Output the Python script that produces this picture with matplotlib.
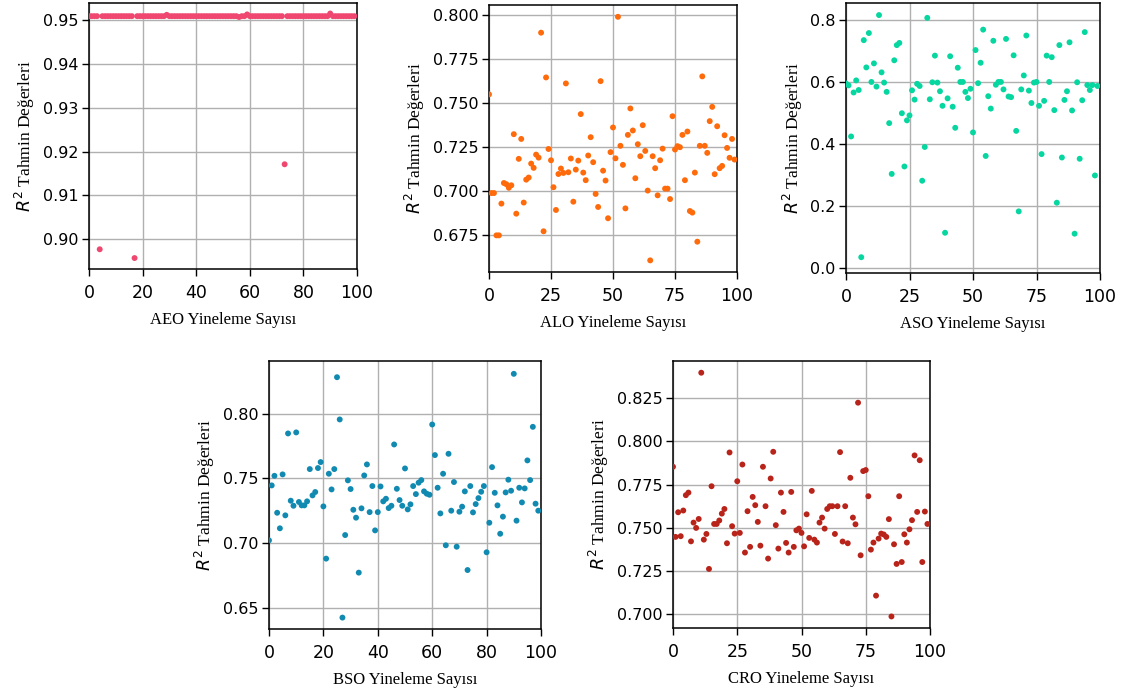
import matplotlib
matplotlib.use("Agg")
import matplotlib.pyplot as plt
import numpy as np

# iteration index 0..99 for every algorithm
iters = list(range(100))

aeo_r2 = [0.9509] * 100
aeo_r2[4] = 0.8977
aeo_r2[17] = 0.8957
aeo_r2[73] = 0.9171
aeo_r2[29] = 0.9512
aeo_r2[59] = 0.9513
aeo_r2[90] = 0.9515
aeo_r2[56] = 0.9507

alo_r2 = [0.755, 0.699, 0.699, 0.675, 0.675, 0.693, 0.7047, 0.704, 0.702, 0.7034,
          0.7324, 0.6873, 0.7184, 0.7297, 0.6936, 0.7066, 0.7078, 0.7157, 0.7133, 0.7208,
          0.7191, 0.790, 0.6773, 0.7646, 0.724, 0.7176, 0.7023, 0.6894, 0.7098, 0.7129,
          0.7104, 0.7612, 0.7108, 0.7186, 0.6941, 0.7123, 0.7174, 0.7438, 0.7106, 0.7063,
          0.7203, 0.7307, 0.7165, 0.6985, 0.6911, 0.7625, 0.7117, 0.7061, 0.6847, 0.7222,
          0.7362, 0.7187, 0.799, 0.7258, 0.715, 0.6903, 0.732, 0.747, 0.7345, 0.7074,
          0.7267, 0.7199, 0.7375, 0.7229, 0.7004, 0.6608, 0.7199, 0.7131, 0.6977, 0.7176,
          0.7242, 0.7015, 0.7015, 0.6956, 0.7426, 0.7237, 0.7256, 0.725, 0.732, 0.7063,
          0.7339, 0.6888, 0.6879, 0.7106, 0.6714, 0.7258, 0.7652, 0.7258, 0.7218, 0.7398,
          0.7479, 0.7097, 0.7369, 0.7131, 0.7144, 0.7318, 0.7246, 0.719, 0.7297, 0.718]

aso_r2 = [0.595, 0.589, 0.424, 0.566, 0.605, 0.574, 0.034, 0.735, 0.647, 0.758,
          0.600, 0.660, 0.585, 0.816, 0.631, 0.598, 0.568, 0.467, 0.303, 0.670,
          0.719, 0.726, 0.499, 0.327, 0.476, 0.492, 0.573, 0.543, 0.594, 0.587,
          0.281, 0.390, 0.807, 0.544, 0.599, 0.685, 0.598, 0.570, 0.523, 0.113,
          0.547, 0.683, 0.520, 0.452, 0.646, 0.600, 0.600, 0.568, 0.548, 0.578,
          0.437, 0.703, 0.596, 0.662, 0.769, 0.361, 0.554, 0.514, 0.733, 0.591,
          0.600, 0.600, 0.576, 0.739, 0.553, 0.551, 0.686, 0.442, 0.182, 0.576,
          0.621, 0.750, 0.572, 0.532, 0.598, 0.600, 0.523, 0.367, 0.539, 0.685,
          0.600, 0.680, 0.509, 0.210, 0.719, 0.356, 0.542, 0.570, 0.728, 0.508,
          0.110, 0.599, 0.352, 0.541, 0.761, 0.590, 0.574, 0.590, 0.298, 0.587]

bso_r2 = [0.7022, 0.7446, 0.752, 0.7235, 0.7115, 0.7531, 0.7215, 0.7847, 0.7328, 0.7289,
          0.7855, 0.7318, 0.7292, 0.7292, 0.7323, 0.7572, 0.7369, 0.7395, 0.758, 0.7626,
          0.7284, 0.6881, 0.7536, 0.7415, 0.7572, 0.8281, 0.7955, 0.6426, 0.7063, 0.7485,
          0.7418, 0.7258, 0.7197, 0.6773, 0.7269, 0.7523, 0.7608, 0.724, 0.7441, 0.7099,
          0.724, 0.7438, 0.7323, 0.7343, 0.7271, 0.7289, 0.7762, 0.742, 0.7333, 0.7289,
          0.7577, 0.7261, 0.730, 0.7441, 0.7379, 0.7467, 0.7487, 0.740, 0.7382, 0.7374,
          0.7916, 0.768, 0.7428, 0.723, 0.7536, 0.6984, 0.769, 0.7251, 0.7472, 0.6973,
          0.7243, 0.7282, 0.740, 0.6793, 0.7441, 0.7238, 0.7302, 0.7348, 0.7397, 0.7441,
          0.693, 0.7158, 0.7587, 0.7389, 0.7292, 0.7073, 0.7205, 0.7392, 0.749, 0.7405,
          0.8307, 0.7174, 0.7428, 0.7315, 0.7423, 0.7639, 0.7487, 0.7898, 0.7305, 0.7251]

cro_r2 = [0.7853, 0.7446, 0.7589, 0.745, 0.7599, 0.7688, 0.7703, 0.742, 0.7529, 0.7498,
          0.755, 0.8399, 0.743, 0.7463, 0.726, 0.774, 0.7521, 0.7521, 0.7541, 0.7581,
          0.7608, 0.7409, 0.7936, 0.7508, 0.7465, 0.7769, 0.7469, 0.7866, 0.7355, 0.7595,
          0.7388, 0.7678, 0.763, 0.7533, 0.7395, 0.7853, 0.7624, 0.732, 0.7785, 0.794,
          0.7514, 0.7378, 0.7703, 0.7591, 0.7411, 0.7355, 0.7707, 0.7388, 0.7484, 0.7494,
          0.7469, 0.7391, 0.7577, 0.744, 0.7713, 0.743, 0.7413, 0.7529, 0.7558, 0.7494,
          0.7608, 0.7624, 0.7624, 0.7463, 0.7624, 0.7938, 0.7419, 0.7624, 0.7409, 0.7789,
          0.7558, 0.7519, 0.8225, 0.7339, 0.7828, 0.7834, 0.7682, 0.7372, 0.7413, 0.7105,
          0.7436, 0.7465, 0.746, 0.7446, 0.7549, 0.6984, 0.7403, 0.7289, 0.7682, 0.730,
          0.7461, 0.7413, 0.749, 0.7543, 0.7919, 0.7591, 0.7891, 0.730, 0.7593, 0.7521]

W, H = 1132, 696

# name, values, color, axes box in pixels (left, top, right, bottom), ylim, yticks, xticks, y format
panels = [
    ("AEO", aeo_r2, "#ef476f", (89, 3, 357, 269), (0.8932, 0.9539),
     np.arange(0.90, 0.951, 0.01), range(0, 101, 20), "{:.2f}"),
    ("ALO", alo_r2, "#ff6a0a", (489, 5, 737, 272), (0.6542, 0.8057),
     np.arange(0.675, 0.8001, 0.025), range(0, 101, 25), "{:.3f}"),
    ("ASO", aso_r2, "#06d6a0", (846, 3, 1100, 273), (-0.017, 0.855),
     np.arange(0.0, 0.801, 0.2), range(0, 101, 25), "{:.1f}"),
    ("BSO", bso_r2, "#118ab2", (269, 361, 541, 629), (0.6338, 0.8406),
     np.arange(0.65, 0.801, 0.05), range(0, 101, 20), "{:.2f}"),
    ("CRO", cro_r2, "#b8231a", (673, 361, 930, 628), (0.6917, 0.8467),
     np.arange(0.700, 0.8251, 0.025), range(0, 101, 25), "{:.3f}"),
]

serif = "Liberation Serif"
fig = plt.figure(figsize=(W / 100, H / 100), dpi=100)

for name, vals, color, (l, t, r, b), ylim, yt, xt, fmt in panels:
    ax = fig.add_axes([l / W, 1 - b / H, (r - l) / W, (b - t) / H])
    ax.scatter(iters, vals, s=18, color=color, edgecolors="none", zorder=3)
    ax.set_xlim(0, 100)
    ax.set_ylim(*ylim)
    ax.set_xticks(list(xt))
    ax.set_yticks(yt)
    ax.set_yticklabels([fmt.format(v) for v in yt])
    ax.grid(True, color="#b0b0b0", linewidth=1.0)
    ax.set_axisbelow(True)
    ax.tick_params(axis="y", labelsize=11.5, length=5, width=1, pad=2.5)
    ax.tick_params(axis="x", labelsize=12.5, length=5, width=1, pad=6)
    for sp in ax.spines.values():
        sp.set_color("black")
        sp.set_linewidth(1.1)
    ax.set_xlabel(f"{name} Yineleme Sayısı", family=serif, fontsize=12, labelpad=7)
    ax.set_ylabel(r"$R^2$ Tahmin Değerleri", family=serif, fontsize=12.5, labelpad=4)

fig.savefig("out.png", dpi=100)
